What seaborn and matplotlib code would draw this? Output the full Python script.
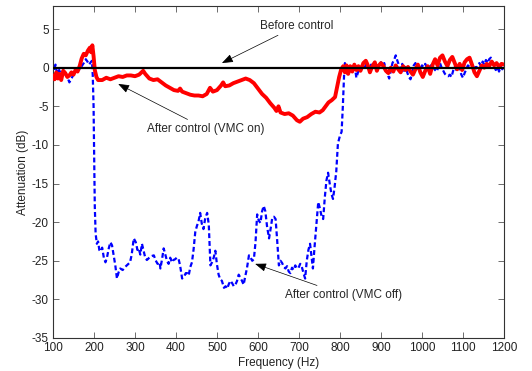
import matplotlib
matplotlib.use('Agg')
import matplotlib.pyplot as plt
import pandas as pd
import seaborn as sns

# after control, VMC on (red, solid)
red_freq = [100, 104, 108, 112, 116, 120, 125, 130, 135, 140, 145, 150, 155, 160, 165, 170, 175, 180,
            185, 190, 193, 196, 199, 202, 206, 210, 220, 230, 240, 250, 260, 270, 280, 290, 300, 310,
            320, 325, 335, 345, 355, 365, 375, 385, 395, 405, 410, 415, 425, 435, 445, 455, 465, 475,
            483, 490, 500, 510, 515, 520, 530, 540, 550, 560, 570, 580, 590, 600, 610, 620, 630, 640,
            645, 650, 655, 665, 675, 685, 695, 702, 710, 720, 730, 740, 750, 758, 765, 772, 780, 788,
            793, 798, 803, 808, 812, 816, 820, 825, 830, 835, 840, 845, 850, 857, 863, 868, 873, 878,
            885, 890, 895, 900, 906, 912, 918, 924, 930, 936, 942, 948, 954, 960, 966, 972, 978, 984,
            990, 996, 1002, 1008, 1014, 1020, 1026, 1032, 1038, 1044, 1050, 1056, 1062, 1068, 1074,
            1080, 1086, 1092, 1098, 1104, 1110, 1116, 1122, 1128, 1134, 1140, 1146, 1152, 1158, 1164,
            1170, 1176, 1182, 1188, 1194, 1200]
red_db = [-1.0, -1.5, -0.6, -1.4, -0.8, -1.6, -0.4, -0.7, -1.2, -1.0, -0.6, -0.9, -0.3, -0.5, 0.2, 1.2,
          1.8, 1.6, 2.2, 2.6, 2.0, 2.9, 1.5, -0.3, -1.2, -1.6, -1.6, -1.3, -1.5, -1.3, -1.1, -1.2, -1.0,
          -1.0, -1.1, -0.9, -0.4, -0.8, -1.4, -1.6, -1.5, -1.9, -2.3, -2.6, -2.9, -3.0, -2.7, -3.1, -3.3,
          -3.5, -3.6, -3.6, -3.7, -3.4, -2.6, -3.1, -2.9, -2.3, -1.9, -2.4, -2.3, -2.0, -1.8, -1.6, -1.4,
          -1.6, -2.0, -2.7, -3.4, -3.9, -4.6, -5.2, -5.6, -5.0, -5.8, -6.0, -5.9, -6.2, -6.8, -7.0, -6.6,
          -6.4, -6.0, -5.7, -5.8, -5.5, -5.0, -4.5, -4.2, -3.8, -2.5, -1.2, -0.2, 0.2, -0.6, 0.3, -0.8,
          0.2, -0.5, 0.4, -0.3, 0.2, -0.4, 0.6, 0.9, 0.3, -0.6, 0.1, 0.7, -0.4, 0.3, 0.6, 0.2, -0.4, -0.7,
          0.0, -0.5, 0.3, -0.2, -0.6, 0.2, -0.3, 0.1, -0.5, -0.9, -0.2, 0.4, -0.6, -1.2, -0.4, 0.2, -0.8,
          0.4, 1.1, 0.3, 1.3, 1.6, 0.8, 0.2, 1.0, 1.4, 0.6, -0.2, 0.5, -0.3, 0.7, 1.1, 1.3, 0.4, -0.6,
          -1.1, -0.4, 0.3, 0.0, 0.5, 0.2, 0.8, 0.3, 0.6, 0.1, 0.5, 0.4]

# after control, VMC off (blue, dashed)
blue_freq = [100, 103, 106, 110, 115, 120, 125, 130, 135, 140, 145, 150, 155, 160, 165, 170, 175, 180,
             184, 188, 192, 195, 197, 199, 200, 201, 202, 204, 207, 210, 213, 216, 220, 224, 228, 232,
             236, 240, 244, 248, 252, 256, 260, 264, 270, 276, 282, 288, 292, 297, 302, 306, 309, 313,
             317, 321, 325, 329, 335, 340, 346, 350, 355, 360, 362, 366, 370, 374, 378, 382, 386, 390,
             394, 398, 402, 406, 410, 415, 420, 424, 427, 431, 435, 439, 443, 447, 451, 455, 459, 463,
             467, 471, 476, 480, 484, 488, 492, 496, 500, 504, 508, 512, 517, 521, 525, 529, 533, 537,
             541, 545, 549, 553, 557, 561, 565, 569, 573, 578, 582, 586, 590, 594, 598, 602, 606, 610,
             614, 618, 622, 627, 631, 635, 639, 643, 647, 651, 655, 659, 663, 667, 671, 675, 679, 683,
             687, 691, 695, 699, 703, 707, 711, 715, 719, 723, 727, 731, 734, 738, 742, 747, 751, 755,
             759, 763, 767, 771, 775, 779, 783, 787, 791, 795, 800, 804, 807, 810, 812, 815, 818, 821,
             824, 828, 832, 836, 840, 844, 848, 852, 856, 860, 864, 868, 872, 876, 880, 884, 888, 892,
             896, 900, 904, 908, 912, 916, 920, 924, 928, 932, 936, 940, 944, 948, 952, 956, 960, 964,
             968, 972, 976, 980, 984, 988, 992, 996, 1000, 1004, 1008, 1012, 1016, 1020, 1024, 1028,
             1032, 1036, 1040, 1044, 1048, 1052, 1056, 1060, 1064, 1068, 1072, 1076, 1080, 1084, 1088,
             1092, 1096, 1100, 1104, 1108, 1112, 1116, 1120, 1124, 1128, 1132, 1136, 1140, 1144, 1148,
             1152, 1156, 1160, 1164, 1168, 1172, 1176, 1180, 1184, 1188, 1192, 1196, 1200]
blue_db = [0.3, -0.4, 0.4, -0.8, -0.3, -0.9, -0.3, -0.6, -1.2, -1.9, -1.4, -0.9, -0.7, -0.3, -0.2, 0.2,
           0.6, 1.1, 0.8, 0.4, 0.7, 0.9, -1.0, -5.0, -10.0, -14.0, -18.0, -21.5, -22.8, -22.5, -23.6,
           -23.8, -23.3, -24.6, -25.2, -24.5, -23.4, -22.6, -23.0, -24.3, -25.6, -27.3, -26.5, -26.0,
           -26.2, -25.8, -25.5, -25.2, -24.2, -22.1, -22.6, -23.6, -23.4, -24.2, -22.8, -23.7, -24.6,
           -24.9, -24.6, -24.4, -24.3, -24.9, -25.4, -25.2, -26.0, -24.8, -23.4, -24.2, -25.0, -25.4,
           -24.6, -25.2, -24.9, -24.8, -24.6, -24.7, -25.6, -27.3, -27.0, -26.6, -26.6, -26.9, -25.8,
           -25.2, -23.5, -21.3, -20.5, -19.9, -18.8, -20.2, -20.9, -19.6, -18.8, -20.3, -25.6, -25.2,
           -24.6, -23.7, -25.5, -26.8, -27.4, -27.6, -28.5, -28.3, -28.6, -28.0, -27.6, -27.9, -28.3,
           -28.1, -27.6, -26.8, -27.2, -27.6, -28.1, -27.0, -26.0, -24.3, -24.6, -25.0, -24.8, -22.6,
           -19.0, -19.8, -20.1, -18.6, -17.9, -18.6, -20.5, -22.1, -20.8, -19.4, -19.3, -19.6, -22.5,
           -25.6, -25.0, -25.3, -25.8, -26.0, -25.7, -26.4, -26.6, -25.9, -26.2, -25.6, -26.0, -25.9,
           -25.4, -25.8, -26.6, -27.3, -25.0, -23.6, -22.8, -24.6, -26.0, -23.2, -20.6, -17.4, -18.2,
           -19.2, -19.6, -16.8, -14.6, -13.6, -15.0, -16.3, -17.0, -15.4, -13.4, -9.8, -8.8, -8.3, -5.0,
           -1.0, 0.6, -0.2, -0.9, -0.3, 0.2, -0.4, -0.1, 0.2, -1.3, -0.6, 0.1, -0.4, 0.3, -0.2, 0.5, 0.1,
           -0.3, 0.4, -0.2, 0.3, 0.5, -0.2, 0.4, 0.7, 0.3, 0.6, -0.3, -0.8, -1.4, -0.4, 0.6, 1.0, 1.6,
           0.9, 0.3, -0.2, 0.5, -0.4, 0.1, -0.6, -1.2, -1.5, -0.7, 0.3, 0.6, 0.0, 0.2, -0.2, 0.3, 0.1,
           0.5, 0.0, -0.2, 0.2, 0.4, 0.0, -0.3, -0.5, 0.1, 0.6, 0.0, -0.4, -0.8, -1.0, -1.1, -0.9, -1.2,
           -0.4, 0.1, -0.3, 0.2, -0.1, -0.9, -1.3, -0.7, -0.2, 0.3, 0.1, 0.5, 0.2, 0.4, -0.1, 0.3, 0.6,
           0.2, 0.8, 0.4, 1.0, 0.6, 1.1, 1.3, 0.7, 0.2, -0.3, 0.1, -0.5, 0.2, -0.2, 0.1]

# before control (black)
before_freq = [100, 1200]
before_db = [0, 0]

x_ticks = list(range(100, 1201, 100))
y_ticks = list(range(-35, 6, 5))

sns.set_style('ticks')
plt.rcParams['font.family'] = ['Liberation Sans', 'DejaVu Sans']
plt.rcParams['axes.unicode_minus'] = False

fig = plt.figure(figsize=(5.32, 3.71), dpi=100)
ax = fig.add_axes([0.0996, 0.089, 0.8477, 0.895])

blue = pd.DataFrame({'freq': blue_freq, 'db': blue_db})
red = pd.DataFrame({'freq': red_freq, 'db': red_db})
before = pd.DataFrame({'freq': before_freq, 'db': before_db})

sns.lineplot(data=blue, x='freq', y='db', ax=ax, color='#0000ff', lw=1.6,
             linestyle=(0, (2.2, 1.3)), estimator=None, sort=False, zorder=2)
sns.lineplot(data=red, x='freq', y='db', ax=ax, color='#ff0000', lw=2.8,
             estimator=None, sort=False, zorder=3)
sns.lineplot(data=before, x='freq', y='db', ax=ax, color='black', lw=1.6,
             estimator=None, sort=False, zorder=4)

ax.set_xlim(100, 1200)
ax.set_ylim(-35, 8)
ax.set_xticks(x_ticks)
ax.set_yticks(y_ticks)
ax.tick_params(direction='in', top=True, right=True, length=4, width=0.6,
               color='#555555', labelcolor='#222222', labelsize=8.5, pad=3)
for s in ax.spines.values():
    s.set_linewidth(0.8)
    s.set_color('#333333')
ax.set_xlabel('Frequency (Hz)', fontsize=8.5, labelpad=2, color='#222222')
ax.set_ylabel('Attenuation (dB)', fontsize=8.5, labelpad=2, color='#222222')

arrow = dict(arrowstyle='-|>,head_length=0.8,head_width=0.3', color='black', lw=0.5,
             shrinkA=0, shrinkB=0)
ax.annotate('Before control', xy=(512, 0.6), xytext=(605, 5.4), fontsize=8.5,
            va='center', ha='left', arrowprops=arrow)
ax.annotate('After control (VMC on)', xy=(259, -2.1), xytext=(329, -7.9), fontsize=8.5,
            va='center', ha='left', arrowprops=arrow)
ax.annotate('After control (VMC off)', xy=(593, -25.4), xytext=(666, -29.4), fontsize=8.5,
            va='center', ha='left', arrowprops=arrow)

fig.savefig('out.png', dpi=100)
